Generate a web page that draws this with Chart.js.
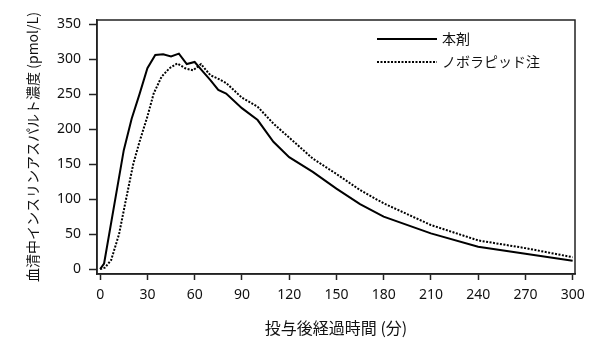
<!DOCTYPE html>
<html>
<head>
<meta charset="utf-8">
<script src="https://cdn.jsdelivr.net/npm/chart.js@4/dist/chart.umd.min.js"></script>
<style>
  html, body { margin: 0; padding: 0; background: #fff; }
  #wrap { width: 607px; height: 349px; }
</style>
</head>
<body>
<div id="wrap"><canvas id="chart" width="607" height="349"></canvas></div>
<script>
// 本剤 (solid)
const timesHonzai = [0, 2.5, 15, 20, 25, 30, 35, 40, 45, 50, 55, 60, 65, 70, 75, 80, 90, 100, 110, 120, 135, 150, 165, 180, 210, 240, 270, 300];
const concHonzai = [0, 8, 170, 215, 250, 287, 306, 307, 304, 308, 293, 296, 283, 270, 256, 251, 230, 213, 182, 160, 139, 115, 93, 75, 51, 32, 22, 12];

// ノボラピッド注 (dotted)
const timesNovo = [0, 3, 7, 12, 16, 21, 25, 30, 34, 39, 44, 49, 54, 59, 64, 70, 75, 80, 90, 100, 110, 120, 135, 150, 165, 180, 210, 240, 270, 300];
const concNovo = [0, 2, 13, 50, 95, 150, 182, 218, 251, 275, 287, 294, 287, 284, 293, 277, 272, 266, 245, 232, 208, 188, 158, 136, 113, 94, 63, 41, 30, 17];

const seriesLabels = ['本剤', 'ノボラピッド注'];
const xTicks = [0, 30, 60, 90, 120, 150, 180, 210, 240, 270, 300];
const yTicks = [0, 50, 100, 150, 200, 250, 300, 350];

const xTitle = '投与後経過時間 (分)';
const yTitle = '血清中インスリンアスパルト濃度 (pmol/L)';

function toPoints(xs, ys) {
    return xs.map((x, i) => ({ x: x, y: ys[i] }));
}

const jpFont = '"Noto Sans CJK JP", "Noto Sans", sans-serif';
const numFont = '"Noto Sans", "Open Sans", sans-serif';

// frame around the plot + legend inside the plot
const framePlugin = {
    id: 'frame',
    afterDatasetsDraw(chart) {
        const ctx = chart.ctx;
        const a = chart.chartArea;
        ctx.save();
        ctx.strokeStyle = '#222';
        ctx.lineWidth = 1.5;
        ctx.strokeRect(a.left, a.top, a.right - a.left, a.bottom - a.top);

        const x0 = a.left + 280;
        const lineLen = 60;
        chart.data.datasets.forEach((ds, i) => {
            const y = a.top + 19 + i * 23;
            ctx.beginPath();
            ctx.strokeStyle = ds.borderColor;
            ctx.lineWidth = ds.borderWidth;
            ctx.setLineDash(ds.borderDash || []);
            ctx.moveTo(x0, y);
            ctx.lineTo(x0 + lineLen, y);
            ctx.stroke();
            ctx.setLineDash([]);
            ctx.fillStyle = '#111';
            ctx.font = '14px ' + jpFont;
            ctx.textBaseline = 'middle';
            ctx.textAlign = 'left';
            ctx.fillText(ds.label, x0 + lineLen + 5, y);
        });
        ctx.restore();
    }
};

const ctx = document.getElementById('chart').getContext('2d');
new Chart(ctx, {
    type: 'line',
    data: {
        datasets: [
            {
                label: seriesLabels[0],
                data: toPoints(timesHonzai, concHonzai),
                borderColor: '#000',
                borderWidth: 2,
                pointRadius: 0,
                tension: 0,
                fill: false,
            },
            {
                label: seriesLabels[1],
                data: toPoints(timesNovo, concNovo),
                borderColor: '#000',
                borderWidth: 2,
                borderDash: [2, 1.5],
                pointRadius: 0,
                tension: 0,
                fill: false,
            }
        ],
    },
    options: {
        responsive: false,
        animation: false,
        events: [],
        layout: { padding: { left: 20, top: 20, right: 32, bottom: 0 } },
        plugins: {
            legend: { display: false },
            tooltip: { enabled: false },
        },
        scales: {
            x: {
                type: 'linear',
                min: -2,
                max: 301.5,
                afterFit(scale) { scale.height = 75; },
                afterBuildTicks(scale) { scale.ticks = xTicks.map(v => ({ value: v })); },
                ticks: {
                    color: '#111',
                    font: { family: numFont, size: 14 },
                    padding: 7,
                    maxRotation: 0,
                    autoSkip: false,
                },
                grid: {
                    display: true,
                    drawOnChartArea: false,
                    drawTicks: true,
                    tickLength: 6,
                    tickWidth: 1.5,
                    tickColor: '#222',
                },
                border: { display: true, color: '#222', width: 1.5 },
                title: {
                    display: true,
                    text: xTitle,
                    color: '#111',
                    font: { family: jpFont, size: 16 },
                    padding: { top: 4, bottom: 11 },
                },
            },
            y: {
                type: 'linear',
                min: -7,
                max: 356,
                afterFit(scale) { scale.width = 77; },
                afterBuildTicks(scale) { scale.ticks = yTicks.map(v => ({ value: v })); },
                ticks: {
                    color: '#111',
                    font: { family: numFont, size: 14 },
                    padding: 8,
                    autoSkip: false,
                },
                grid: {
                    display: true,
                    drawOnChartArea: false,
                    drawTicks: true,
                    tickLength: 8,
                    tickWidth: 1.5,
                    tickColor: '#222',
                },
                border: { display: true, color: '#222', width: 1.5 },
                title: {
                    display: true,
                    text: yTitle,
                    color: '#111',
                    font: { family: jpFont, size: 14 },
                    padding: { top: 4, bottom: 4 },
                },
            },
        },
    },
    plugins: [framePlugin],
});
</script>
</body>
</html>
